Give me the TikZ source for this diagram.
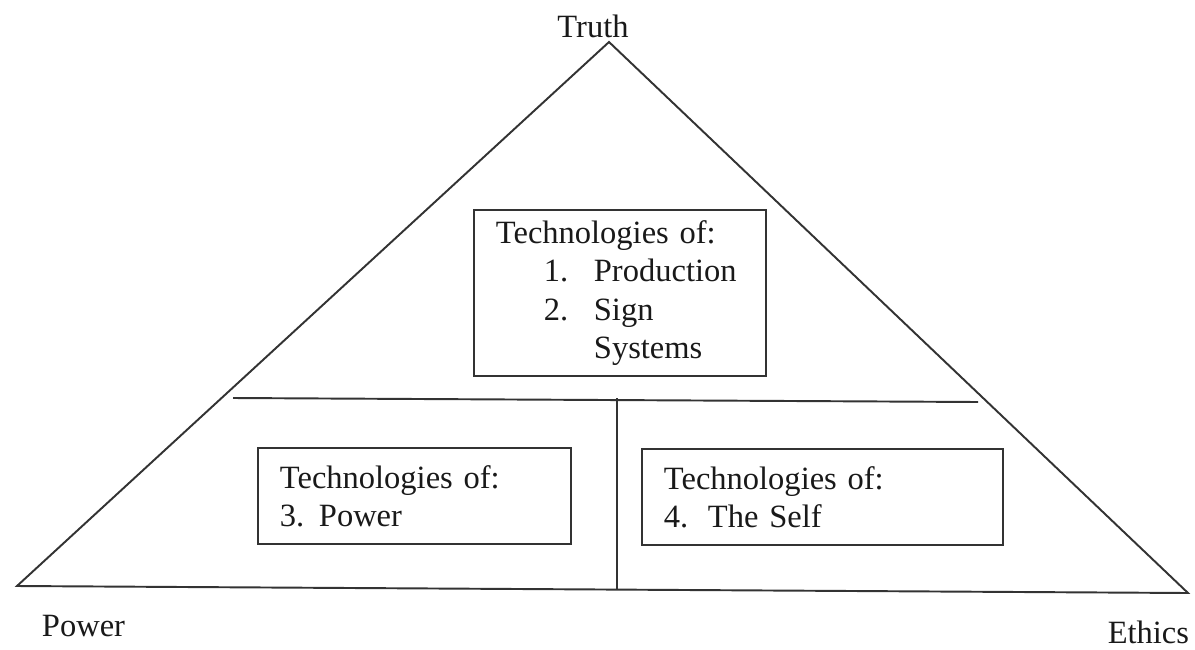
\documentclass[tikz,border=0pt]{standalone}
\usepackage{fontspec}
\setmainfont{Liberation Serif}
\usepackage{tikz}
\usetikzlibrary{arrows.meta,positioning,calc}
\newcommand{\TechBox}[5]{%
  \node[draw, rectangle, anchor=north west, align=left, inner xsep=4.4mm, inner ysep=0pt,
        text width=#3, minimum height=#4] (#1) at #2 {#5};
}

\begin{document}
\begin{tikzpicture}[x=0.02cm, y=-0.02cm, line width=1.1pt, draw=black!80,
    every node/.style={font=\fontsize{18.5}{21.8}\selectfont, text=black!90}]
  \useasboundingbox (0,0) rectangle (1195,649);
  % corners of the triangle
  \coordinate (apex) at (609,42);
  \coordinate (bl) at (17,586);
  \coordinate (br) at (1188,593);
  \draw (bl) -- (apex) -- (br) -- cycle;
  % split into three parts
  \coordinate (hl) at (233,398);
  \coordinate (hr) at (978,402);
  \coordinate (vt) at (617,398);
  \coordinate (vb) at (617,590);
  \draw (hl) -- (hr);
  \draw (vt) -- (vb);
  % corner labels
  \node[anchor=base] (truth) at (593,37) {Truth};
  \node[anchor=base west, inner sep=0pt] (power) at (41,636) {Power};
  \node[anchor=base east, inner sep=0pt] (ethics) at (1190,643) {Ethics};
  % the three boxes
  \TechBox{prod}{(473,209)}{49.6mm}{33.2mm}{Technologies of:\\
    \hspace*{9.6mm}\makebox[10mm][l]{1.}Production\\
    \hspace*{9.6mm}\makebox[10mm][l]{2.}Sign\\
    \hspace*{19.6mm}Systems}
  \TechBox{pow}{(257,447)}{53.8mm}{19.2mm}{Technologies of:\\
    \makebox[7.8mm][l]{3.}Power}
  \TechBox{self}{(641,448)}{63.4mm}{19.2mm}{Technologies of:\\
    \makebox[8.8mm][l]{4.}The Self}
\end{tikzpicture}
\end{document}
